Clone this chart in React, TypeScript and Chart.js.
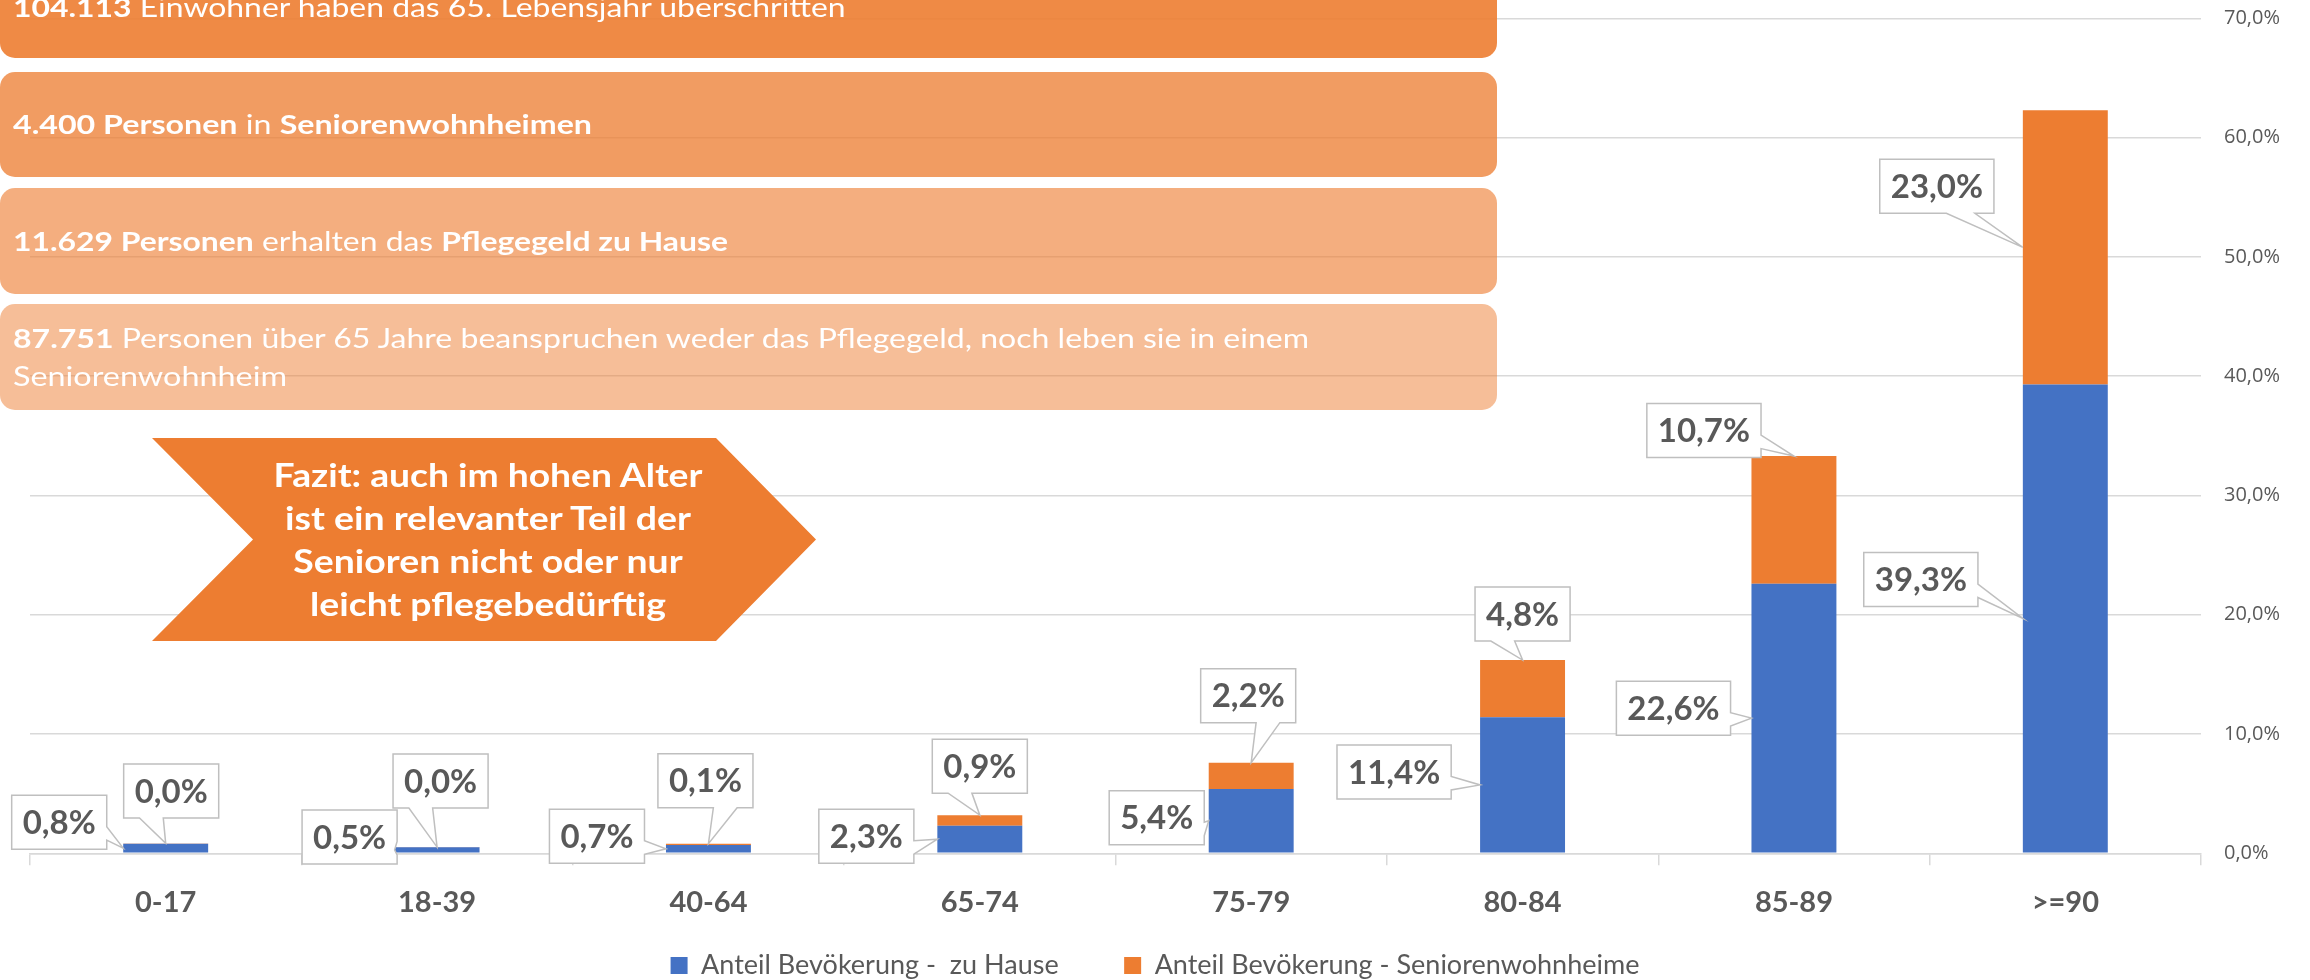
import React, { useEffect, useRef } from 'react';
import { Chart, registerables } from 'chart.js';

Chart.register(...registerables);

// ---------- data ----------
const categories = ['0-17', '18-39', '40-64', '65-74', '75-79', '80-84', '85-89', '>=90'];
const zuHause = [0.8, 0.5, 0.7, 2.3, 5.4, 11.4, 22.6, 39.3];
const seniorenheime = [0.03, 0.02, 0.1, 0.9, 2.2, 4.8, 10.7, 23.0];
const seriesNames = ['Anteil Bevökerung -  zu Hause', 'Anteil Bevökerung - Seniorenwohnheime'];
const yMin = 0;
const yMax = 70;
const yStep = 10;

// ---------- callout layout (box centre offset from the anchor on the bar) ----------
const blueOffsets = [[-64, -26], [-45, -13], [-69, -12.5], [-71, -3], [-52, -3], [-86, -13], [-78, -10], [-102, -39]];
const orangeOffsets = [[5.5, -52.5], [3.5, -66], [-3, -63], [0, -49], [-3, -67], [0, -46], [-90, -25.5], [-86, -61]];
const blueAnchors = ['side', 'side', 'side', 'side', 'side', 'side', 'side', 'side'];
const orangeAnchors = ['top', 'top', 'top', 'top', 'top', 'top', 'top', 'side'];

const BLUE = '#4472C4';
const ORANGE = '#ED7D31';
const GRAY_TEXT = '#595959';
const GRID = '#D9D9D9';

const fmt = (v: number) => v.toFixed(1).replace('.', ',') + '%';

// ---------- text annotations ----------
type Part = [string, boolean];
const infoBoxes: { top: number; height: number; alpha: number; lines: { parts: Part[]; target: number }[] }[] = [
  { top: -44, height: 102.3, alpha: 0.9, lines: [{ parts: [['104.113', true], [' Einwohner haben das 65. Lebensjahr überschritten', false]], target: 834 }] },
  { top: 71.7, height: 105.6, alpha: 0.76, lines: [{ parts: [['4.400 Personen', true], [' in ', false], ['Seniorenwohnheimen', true]], target: 579 }] },
  { top: 188.3, height: 105.7, alpha: 0.62, lines: [{ parts: [['11.629 Personen', true], [' erhalten das ', false], ['Pflegegeld zu Hause', true]], target: 715 }] },
  {
    top: 304.3, height: 105.7, alpha: 0.5, lines: [
      { parts: [['87.751', true], [' Personen über 65 Jahre beanspruchen weder das Pflegegeld, noch leben sie in einem', false]], target: 1299 },
      { parts: [['Seniorenwohnheim', false]], target: 274 },
    ]
  },
];
const fazitLines = [
  { text: 'Fazit: auch im hohen Alter', target: 430 },
  { text: 'ist ein relevanter Teil der', target: 408 },
  { text: 'Senioren nicht oder nur', target: 390 },
  { text: 'leicht pflegebedürftig', target: 356 },
];

let measureCtx: CanvasRenderingContext2D | null = null;
function measureParts(parts: Part[], size: number): number {
  if (!measureCtx) measureCtx = document.createElement('canvas').getContext('2d');
  let w = 0;
  for (const [t, b] of parts) {
    measureCtx!.font = `${b ? 'bold ' : ''}${size}px Lato`;
    w += measureCtx!.measureText(t).width;
  }
  return w;
}

function drawCallout(ctx: CanvasRenderingContext2D, cx: number, cy: number, w: number, h: number, tipX: number, tipY: number) {
  const l = cx - w / 2, t = cy - h / 2, r = cx + w / 2, b = cy + h / 2;
  const dxPos = tipX - cx, dyPos = tipY - cy;
  const dq = (dxPos * h) / w;
  const dz = Math.abs(dyPos) - Math.abs(dq);
  const x1 = l + (w * (dxPos > 0 ? 7 : 2)) / 12;
  const x2 = l + (w * (dxPos > 0 ? 10 : 5)) / 12;
  const y1 = t + (h * (dyPos > 0 ? 7 : 2)) / 12;
  const y2 = t + (h * (dyPos > 0 ? 10 : 5)) / 12;
  const xl = dz > 0 ? l : dxPos > 0 ? l : tipX;
  const xt = dz > 0 ? (dyPos > 0 ? x1 : tipX) : x1;
  const xr = dz > 0 ? r : dxPos > 0 ? tipX : r;
  const xb = dz > 0 ? (dyPos > 0 ? tipX : x1) : x1;
  const yl = dz > 0 ? y1 : dxPos > 0 ? y1 : tipY;
  const yt = dz > 0 ? (dyPos > 0 ? t : tipY) : t;
  const yr = dz > 0 ? y1 : dxPos > 0 ? tipY : y1;
  const yb = dz > 0 ? (dyPos > 0 ? tipY : b) : b;
  ctx.beginPath();
  ctx.moveTo(l, t);
  ctx.lineTo(x1, t); ctx.lineTo(xt, yt); ctx.lineTo(x2, t); ctx.lineTo(r, t);
  ctx.lineTo(r, y1); ctx.lineTo(xr, yr); ctx.lineTo(r, y2); ctx.lineTo(r, b);
  ctx.lineTo(x2, b); ctx.lineTo(xb, yb); ctx.lineTo(x1, b); ctx.lineTo(l, b);
  ctx.lineTo(l, y2); ctx.lineTo(xl, yl); ctx.lineTo(l, y1);
  ctx.closePath();
  ctx.fillStyle = '#FFFFFF';
  ctx.fill();
  ctx.lineWidth = 1.5;
  ctx.strokeStyle = '#BFBFBF';
  ctx.stroke();
}

const calloutPlugin = {
  id: 'excelCallouts',
  afterDatasetsDraw(chart: any) {
    const ctx: CanvasRenderingContext2D = chart.ctx;
    ctx.save();
    const sets = [
      { meta: chart.getDatasetMeta(0), values: zuHause, offsets: blueOffsets, anchors: blueAnchors },
      { meta: chart.getDatasetMeta(1), values: seniorenheime, offsets: orangeOffsets, anchors: orangeAnchors },
    ];
    for (const s of sets) {
      s.meta.data.forEach((el: any, i: number) => {
        const { x, y, base, width } = el.getProps(['x', 'y', 'base', 'width'], true);
        let ax: number, ay: number;
        if (s.anchors[i] === 'top') { ax = x; ay = y; } else { ax = x - width / 2; ay = (y + base) / 2; }
        const label = fmt(s.values[i]);
        ctx.font = 'bold 33px Lato';
        const tw = ctx.measureText(label).width;
        const w = tw + 22, h = 54;
        const cx = ax + s.offsets[i][0], cy = ay + s.offsets[i][1];
        drawCallout(ctx, cx, cy, w, h, ax, ay);
        ctx.fillStyle = GRAY_TEXT;
        ctx.textAlign = 'center';
        ctx.textBaseline = 'middle';
        ctx.fillText(label, cx, cy + 1);
      });
    }
    ctx.restore();
  },
};

function ChartCanvas() {
  const ref = useRef<HTMLCanvasElement>(null);
  useEffect(() => {
    if (!ref.current) return;
    const chart = new Chart(ref.current, {
      type: 'bar',
      data: {
        labels: categories,
        datasets: [
          { label: seriesNames[0], data: zuHause, backgroundColor: BLUE, borderWidth: 0, barPercentage: 0.313, categoryPercentage: 1 },
          { label: seriesNames[1], data: seniorenheime, backgroundColor: ORANGE, borderWidth: 0, barPercentage: 0.313, categoryPercentage: 1 },
        ],
      },
      options: {
        responsive: false,
        animation: false,
        devicePixelRatio: 1,
        layout: { padding: { left: 0, right: 0, top: 18.3, bottom: -9 } },
        plugins: {
          tooltip: { enabled: false },
          legend: {
            position: 'bottom',
            labels: {
              font: { family: 'Lato', size: 27 },
              color: GRAY_TEXT,
              boxWidth: 17,
              boxHeight: 17,
              padding: 25,
              generateLabels: (c: any) => {
                const items = (Chart as any).defaults.plugins.legend.labels.generateLabels(c);
                items[0].text = items[0].text + '\u2003\u2003';
                return items;
              },
            },
          },
        },
        scales: {
          x: {
            stacked: true,
            offset: true,
            grid: { display: true, drawOnChartArea: false, drawTicks: true, tickLength: 12, color: GRID, lineWidth: 1.5, offset: true },
            border: { display: true, color: GRID, width: 1.5 },
            ticks: { font: { family: 'Lato', size: 29, weight: 'bold' }, color: GRAY_TEXT, padding: 20.3, maxRotation: 0, autoSkip: false },
            afterFit: (s: any) => { s.height = 73.7; },
          },
          y: {
            stacked: true,
            position: 'right',
            min: yMin,
            max: yMax,
            ticks: { stepSize: yStep, font: { family: 'Open Sans', size: 20 }, color: GRAY_TEXT, padding: 0, callback: (v: any) => fmt(Number(v)) },
            grid: { color: GRID, lineWidth: 1.5, drawTicks: true, tickLength: 23, tickColor: 'rgba(0,0,0,0)' },
            border: { display: false },
            afterFit: (s: any) => { s.width = 109; },
          },
          yLeft: {
            type: 'linear',
            position: 'left',
            display: true,
            grid: { display: false },
            ticks: { display: false },
            border: { display: false },
            afterFit: (s: any) => { s.width = 30; },
          },
        },
      } as any,
      plugins: [calloutPlugin],
    });
    return () => chart.destroy();
  }, []);
  return <canvas ref={ref} width={2310} height={980} style={{ position: 'absolute', left: 0, top: 0 }} />;
}

function InfoBoxes() {
  const size = 26;
  return (
    <>
      {infoBoxes.map((b, i) => (
        <div
          key={i}
          style={{
            position: 'absolute', left: 0, top: b.top, width: 1497, height: b.height, borderRadius: 15,
            background: `rgba(237,125,49,${b.alpha})`, boxSizing: 'border-box', paddingLeft: 13,
            display: 'flex', flexDirection: 'column', justifyContent: 'center', color: '#FFFFFF',
            fontFamily: 'Lato', fontSize: size, lineHeight: '38px',
          }}
        >
          {b.lines.map((ln, j) => {
            const sx = ln.target / measureParts(ln.parts, size);
            return (
              <div key={j} style={{ whiteSpace: 'pre', transform: `scaleX(${sx})`, transformOrigin: 'left center' }}>
                {ln.parts.map(([t, bold], k) => (
                  <span key={k} style={{ fontWeight: bold ? 'bold' : 'normal' }}>{t}</span>
                ))}
              </div>
            );
          })}
        </div>
      ))}
    </>
  );
}

function Fazit() {
  const size = 32;
  return (
    <>
      <div
        style={{
          position: 'absolute', left: 152, top: 438, width: 664, height: 203, background: ORANGE,
          clipPath: 'polygon(0px 0px, 564px 0px, 664px 101.5px, 564px 203px, 0px 203px, 101px 101.5px)',
        }}
      />
      <div style={{ position: 'absolute', left: 288, top: 452.5, width: 400, color: '#FFFFFF', fontFamily: 'Lato', fontWeight: 'bold', fontSize: size, lineHeight: '43px', textAlign: 'center' }}>
        {fazitLines.map((ln, i) => {
          const sx = ln.target / measureParts([[ln.text, true]], size);
          return (
            <div key={i} style={{ whiteSpace: 'pre', transform: `scaleX(${sx})`, transformOrigin: 'center center' }}>{ln.text}</div>
          );
        })}
      </div>
    </>
  );
}

export default function App() {
  return (
    <div style={{ position: 'fixed', left: 0, top: 0, width: 2310, height: 980, background: '#FFFFFF', overflow: 'hidden' }}>
      <ChartCanvas />
      <InfoBoxes />
      <Fazit />
    </div>
  );
}
